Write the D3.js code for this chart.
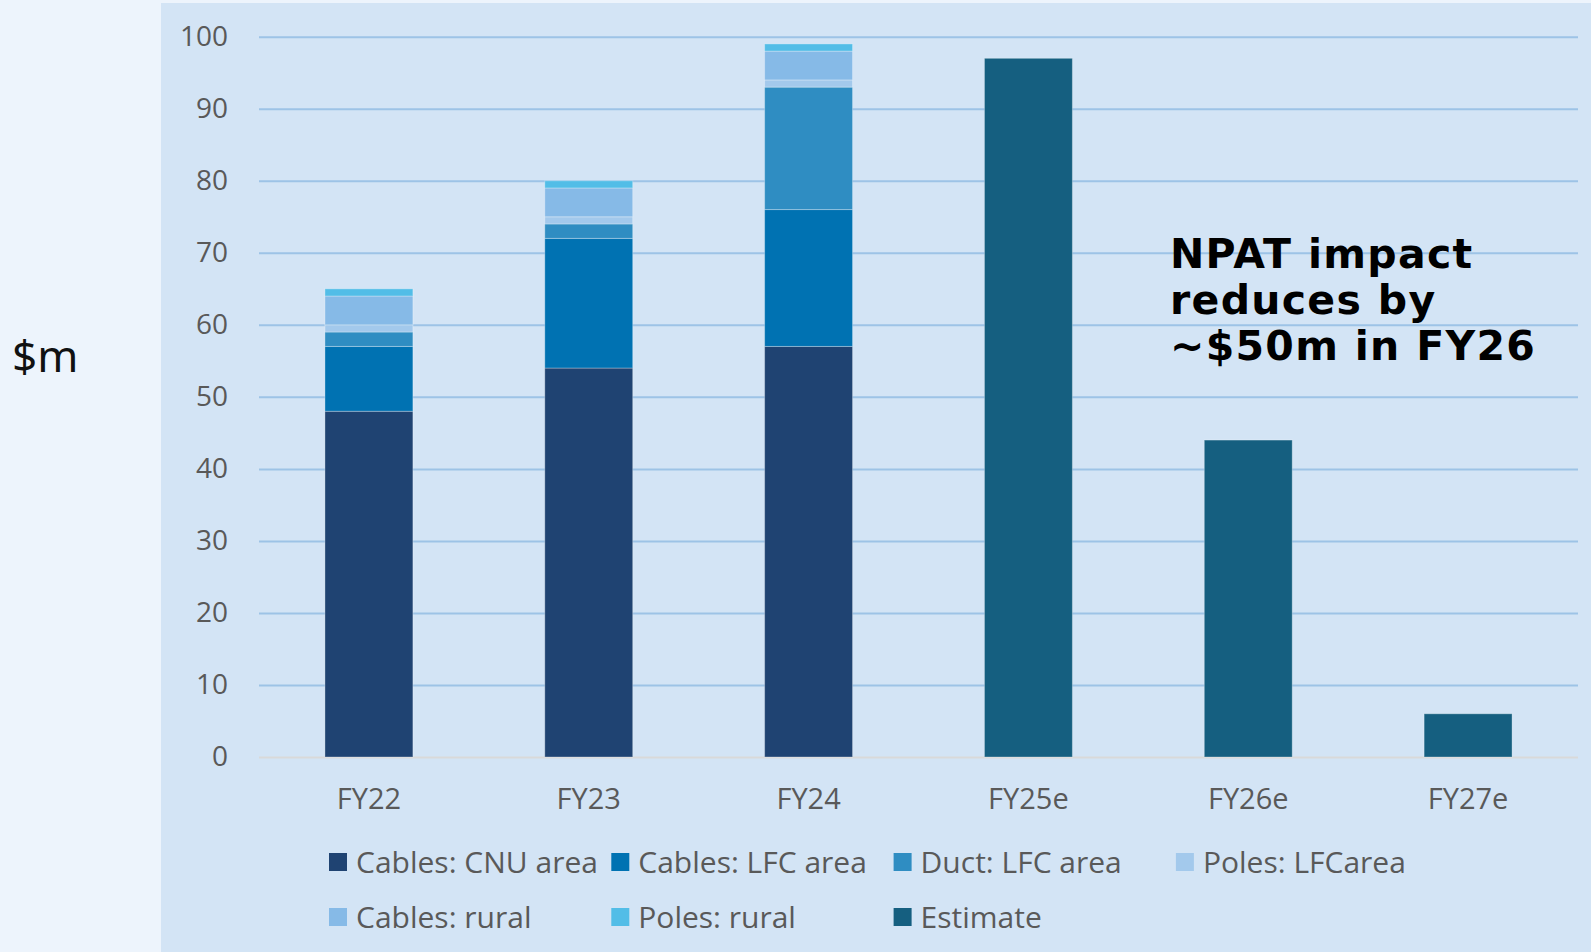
<!DOCTYPE html>
<html>
<head>
<meta charset="utf-8">
<script src="https://cdn.jsdelivr.net/npm/d3@7"></script>
<style>
  html, body {
    margin: 0;
    padding: 0;
    background: #edf4fc;
  }

  svg {
    display: block;
  }

  .tick-label {
    font-family: "Open Sans", sans-serif;
    font-size: 28px;
    fill: #595959;
  }

  .x-label {
    font-family: "Open Sans", sans-serif;
    font-size: 29px;
    fill: #595959;
  }

  .legend-label {
    font-family: "Open Sans", sans-serif;
    font-size: 30px;
    fill: #595959;
  }
</style>
</head>
<body>
<svg id="chart" width="1591" height="952"></svg>
<script>
//

const categories = ['FY22', 'FY23', 'FY24', 'FY25e', 'FY26e', 'FY27e']

const cablesCnuArea = [48, 54, 57, 0, 0, 0]
const cablesLfcArea = [9, 18, 19, 0, 0, 0]
const ductLfcArea = [2, 2, 17, 0, 0, 0]
const polesLfcArea = [1, 1, 1, 0, 0, 0]
const cablesRural = [4, 4, 4, 0, 0, 0]
const polesRural = [1, 1, 1, 0, 0, 0]
const estimate = [0, 0, 0, 97, 44, 6]

const seriesNames = [
  'Cables: CNU area', 'Cables: LFC area', 'Duct: LFC area', 'Poles: LFCarea',
  'Cables: rural', 'Poles: rural', 'Estimate'
]
const seriesValues = [
  cablesCnuArea, cablesLfcArea, ductLfcArea, polesLfcArea,
  cablesRural, polesRural, estimate
]
const seriesColors = [
  '#1f4372', '#0072b2', '#2f8dc2', '#a3c9ec',
  '#86bae7', '#52bde7', '#155f80'
]

const yTicks = [0, 10, 20, 30, 40, 50, 60, 70, 80, 90, 100]

const noteLines = ['NPAT impact', 'reduces by', '~$50m in FY26']

//

const svg = d3.select('#chart')
const plot = {left: 259, right: 1578, top: 36.7, bottom: 757}

const rows = categories.map((c, i) => {
  const row = {category: c}
  seriesNames.forEach((name, k) => { row[name] = seriesValues[k][i] })
  return row
})

const stack = d3.stack().keys(seriesNames)
const stacked = stack(rows)

const x = d3.scaleBand()
  .domain(categories)
  .range([plot.left, plot.right])
  .paddingInner(0.6)
  .paddingOuter(0.3)

const y = d3.scaleLinear()
  .domain([0, 100])
  .range([plot.bottom, plot.top])

const color = d3.scaleOrdinal().domain(seriesNames).range(seriesColors)

// panel
svg.append('rect')
  .attr('x', 161)
  .attr('y', 3)
  .attr('width', 1591 - 161)
  .attr('height', 952 - 3)
  .attr('fill', '#d3e4f5')

// gridlines
const grid = svg.append('g')
  .attr('transform', 'translate(' + plot.left + ',0)')
  .call(d3.axisLeft(y)
    .tickValues(yTicks)
    .tickSize(-(plot.right - plot.left))
    .tickFormat(''))
grid.select('.domain').remove()
grid.selectAll('.tick line')
  .attr('stroke', d => d === 0 ? '#d9d9d9' : '#9dc3e6')
  .attr('stroke-width', 2)

// y labels
const yAxis = svg.append('g')
  .attr('transform', 'translate(' + plot.left + ',0)')
  .call(d3.axisLeft(y)
    .tickValues(yTicks)
    .tickSize(0)
    .tickPadding(31))
yAxis.select('.domain').remove()
yAxis.selectAll('text')
  .attr('class', 'tick-label')
  .attr('font-family', null)
  .attr('font-size', null)

// bars
svg.append('g')
  .selectAll('g')
  .data(stacked)
  .join('g')
  .attr('fill', d => color(d.key))
  .selectAll('rect')
  .data(d => d.filter(p => p[1] - p[0] > 0))
  .join('rect')
  .attr('x', d => x(d.data.category))
  .attr('y', d => y(d[1]))
  .attr('width', x.bandwidth())
  .attr('height', d => y(d[0]) - y(d[1]))
  .attr('stroke', 'rgba(255,255,255,0.3)')
  .attr('stroke-width', 1)

// x labels
const xAxis = svg.append('g')
  .attr('transform', 'translate(0,' + plot.bottom + ')')
  .call(d3.axisBottom(x).tickSize(0).tickPadding(31))
xAxis.select('.domain').remove()
xAxis.selectAll('text')
  .attr('class', 'x-label')
  .attr('font-family', null)
  .attr('font-size', null)

// legend
const legendCols = 4
const legend = svg.append('g')
  .selectAll('g')
  .data(seriesNames)
  .join('g')
  .attr('transform', (d, i) => 'translate(' + (329 + (i % legendCols) * 282.3) + ',' + (862 + Math.floor(i / legendCols) * 55) + ')')

legend.append('rect')
  .attr('x', 0)
  .attr('y', -9)
  .attr('width', 18)
  .attr('height', 18)
  .attr('fill', d => color(d))

legend.append('text')
  .attr('class', 'legend-label')
  .attr('x', 27)
  .attr('dy', '0.35em')
  .text(d => d)

// y axis title
svg.append('text')
  .attr('x', 12)
  .attr('y', 372)
  .attr('font-family', '"Noto Sans", sans-serif')
  .attr('font-size', 44)
  .attr('fill', '#111')
  .text('$m')

// annotation
svg.append('text')
  .attr('font-family', '"DejaVu Sans", sans-serif')
  .attr('font-weight', 'bold')
  .attr('font-size', 41)
  .attr('letter-spacing', 1.3)
  .attr('fill', '#000')
  .selectAll('tspan')
  .data(noteLines)
  .join('tspan')
  .attr('x', 1170)
  .attr('y', (d, i) => 268 + i * 46)
  .text(d => d)
</script>
</body>
</html>
